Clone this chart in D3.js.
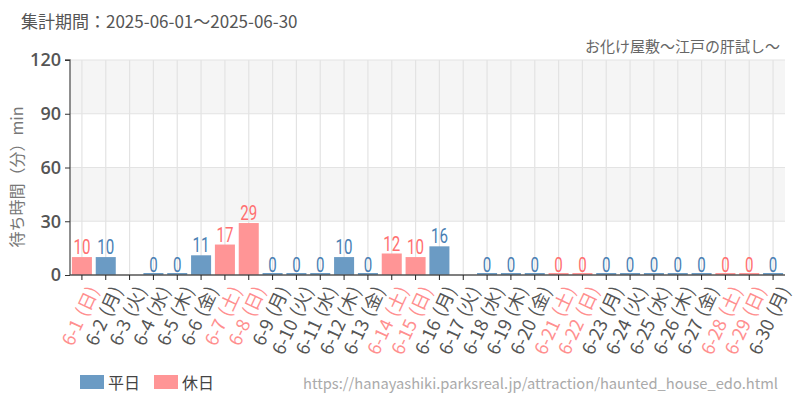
<!DOCTYPE html>
<html><head><meta charset="utf-8">
<script src="https://cdn.jsdelivr.net/npm/d3@7"></script>
<style>body{margin:0;background:#fff}svg{display:block}</style>
</head><body>
<svg id="c" width="800" height="400"></svg>
<script>
const days = ["6-1","6-2","6-3","6-4","6-5","6-6","6-7","6-8","6-9","6-10","6-11","6-12","6-13","6-14","6-15","6-16","6-17","6-18","6-19","6-20","6-21","6-22","6-23","6-24","6-25","6-26","6-27","6-28","6-29","6-30"];
const weekdays = ["日","月","火","水","木","金","土","日","月","火","水","木","金","土","日","月","火","水","木","金","土","日","月","火","水","木","金","土","日","月"];
const holiday = [1,0,0,0,0,0,1,1,0,0,0,0,0,1,1,0,0,0,0,0,1,1,0,0,0,0,0,1,1,0];
const waits = [10,10,null,0,0,11,17,29,0,0,0,10,0,12,10,16,null,0,0,0,0,0,0,0,0,0,0,0,0,0];
const yTicks = [0,30,60,90,120];
const title = "集計期間：2025-06-01～2025-06-30";
const subtitle = "お化け屋敷～江戸の肝試し～";
const yLabel = "待ち時間（分）min";
const legendNames = ["平日","休日"];
const url = "https://hanayashiki.parksreal.jp/attraction/haunted_house_edo.html";

const C = {wdBar:"#6b9bc4", hdBar:"#ff9596", wdText:"#4a7fb4", hdText:"#ff6f70", wdAxis:"#555", hdAxis:"#ff8f8f"};
const svg = d3.select("#c");
const m = {l:70, r:785, t:60, b:275};
const x = d3.scaleBand().domain(days).range([m.l, m.r]).paddingInner(0.16).paddingOuter(0.08);
const y = d3.scaleLinear().domain([0,120]).range([m.b, m.t]);

// background bands
for (let i=0;i<yTicks.length-1;i++){
  if (i%2===1) svg.append("rect").attr("x",m.l).attr("width",m.r-m.l)
    .attr("y",y(yTicks[i+1])).attr("height",y(yTicks[i])-y(yTicks[i+1])).attr("fill","#f5f5f5");
}
// grid
const cx = d => x(d)+x.bandwidth()/2;
svg.append("g").selectAll("line").data(days).join("line")
  .attr("x1",cx).attr("x2",cx).attr("y1",m.t).attr("y2",m.b).attr("stroke","#e3e3e3").attr("stroke-width",1.2);
svg.append("g").selectAll("line").data(yTicks.slice(1)).join("line")
  .attr("x1",m.l).attr("x2",m.r).attr("y1",d=>y(d)).attr("y2",d=>y(d)).attr("stroke","#e3e3e3").attr("stroke-width",1.2);

// bars
const data = days.map((d,i)=>({d,v:waits[i],h:holiday[i],w:weekdays[i]}));
const bd = data.filter(e=>e.v!==null);
svg.append("g").selectAll("rect").data(bd).join("rect")
  .attr("x",e=>x(e.d)).attr("width",x.bandwidth())
  .attr("y",e=>e.v===0? y(0)-2 : y(e.v)).attr("height",e=>e.v===0?2:y(0)-y(e.v))
  .attr("fill",e=>e.h?C.hdBar:C.wdBar);
svg.append("g").selectAll("text").data(bd).join("text")
  .attr("transform",e=>`translate(${cx(e.d)},${y(e.v)-3}) scale(0.72,1)`).attr("text-anchor","middle")
  .attr("font-family","Roboto,sans-serif")
  .attr("font-size",21).attr("fill",e=>e.h?C.hdText:C.wdText).text(e=>e.v);

// y axis
const ya = svg.append("g").attr("transform",`translate(${m.l},0)`)
  .call(d3.axisLeft(y).tickValues(yTicks).tickSize(5).tickPadding(4));
ya.select(".domain").attr("stroke","#555").attr("stroke-width",1.3).attr("d",`M-5,${m.t}H0V${m.b}`);
ya.selectAll(".tick line").attr("stroke","#333");
ya.selectAll("text").attr("font-family","'Open Sans',sans-serif").attr("font-size",18).attr("font-weight",600).attr("fill","#555");

// x axis
const xa = svg.append("g").attr("transform",`translate(0,${m.b})`)
  .call(d3.axisBottom(x).tickSize(5).tickFormat(""));
xa.select(".domain").attr("stroke","#555").attr("stroke-width",1.3).attr("d",`M${m.l},0H${m.r}`);
xa.selectAll(".tick line").attr("stroke","#222");
const xl = svg.append("g").selectAll("text").data(data).join("text")
  .attr("transform",e=>`translate(${cx(e.d)+6},${m.b+10}) rotate(-65)`)
  .attr("text-anchor","end").attr("dy","0.7em")
  .attr("font-family","'Noto Sans CJK JP','Noto Sans',sans-serif").attr("font-size",18)
  .attr("fill",e=>e.h?C.hdAxis:C.wdAxis);
xl.append("tspan").text(e=>e.d);
xl.append("tspan").attr("dx",6).text(e=>`(${e.w})`);

// y label
svg.append("text").attr("transform","translate(23,177) rotate(-90)").attr("text-anchor","middle")
  .attr("font-family","'Noto Sans CJK JP',sans-serif").attr("font-size",16).attr("fill","#777").text(yLabel);

// titles
svg.append("text").attr("x",21).attr("y",28).attr("font-family","'Noto Sans CJK JP',sans-serif")
  .attr("font-size",17).attr("fill","#555").text(title);
svg.append("text").attr("x",780).attr("y",52).attr("text-anchor","end").attr("font-family","'Noto Sans CJK JP',sans-serif")
  .attr("font-size",15).attr("fill","#666").text(subtitle);

// legend
const lg = svg.append("g");
legendNames.forEach((n,i)=>{
  const lx = 80 + i*74;
  lg.append("rect").attr("x",lx).attr("y",375).attr("width",24).attr("height",14).attr("fill",i?C.hdBar:C.wdBar);
  lg.append("text").attr("x",lx+28).attr("y",389).attr("font-family","'Noto Sans CJK JP',sans-serif")
    .attr("font-size",16).attr("fill","#444").text(n);
});
svg.append("text").attr("x",778).attr("y",389).attr("text-anchor","end").attr("font-family","'Noto Sans CJK JP',sans-serif")
  .attr("font-size",14.7).attr("fill","#aaa").text(url);
</script>
</body></html>
